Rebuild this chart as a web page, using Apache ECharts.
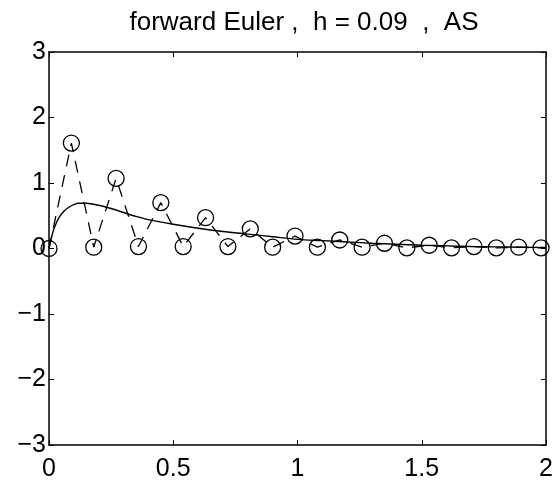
<!DOCTYPE html>
<html>
<head>
<meta charset="utf-8">
<script src="https://cdn.jsdelivr.net/npm/echarts@6/dist/echarts.min.js"></script>
<style>
  html, body { margin: 0; padding: 0; background: #fff; }
  #chart { width: 558px; height: 482px; }
</style>
</head>
<body>
<div id="chart"></div>
<script>
// forward Euler steps, h = 0.09
const eulerT = [0, 0.09, 0.18, 0.27, 0.36, 0.45, 0.54, 0.63, 0.72, 0.81, 0.9, 0.99,
                1.08, 1.17, 1.26, 1.35, 1.44, 1.53, 1.62, 1.71, 1.8, 1.89, 1.98];
const eulerY = [0, 1.61, 0.02, 1.07, 0.03, 0.70, 0.03, 0.47, 0.03, 0.30, 0.02, 0.19,
                0.02, 0.13, 0.02, 0.08, 0.01, 0.05, 0.01, 0.03, 0.01, 0.02, 0.01];

// exact solution
const exactT = [0, 0.01, 0.02, 0.04, 0.06, 0.08, 0.1, 0.12, 0.15, 0.2, 0.25, 0.3, 0.35, 0.4,
                0.5, 0.6, 0.7, 0.8, 0.9, 1.0, 1.1, 1.2, 1.3, 1.4, 1.5, 1.6, 1.7, 1.8, 1.9, 2.0];
const exactY = [0, 0.17, 0.30, 0.47, 0.57, 0.63, 0.67, 0.69, 0.69, 0.66, 0.61, 0.55, 0.49, 0.44,
                0.37, 0.31, 0.26, 0.22, 0.18, 0.14, 0.12, 0.10, 0.08, 0.065, 0.05, 0.04, 0.03, 0.025, 0.02, 0.015];

const titleText = 'forward Euler ,  h = 0.09  ,  AS';

const chart = echarts.init(document.getElementById('chart'), null, {renderer: 'canvas'});
const font = 'Liberation Sans, Arial, Helvetica, sans-serif';
const axisLine = {show: true, onZero: false, lineStyle: {color: '#000', width: 1.5}};
const tickIn = {show: true, inside: true, length: 5, lineStyle: {color: '#000', width: 1}};

const option = {
    animation: false,
    backgroundColor: '#fff',
    title: {
        text: titleText,
        left: 299,
        top: 5,
        textAlign: 'center',
        textStyle: {fontFamily: font, fontSize: 26, fontWeight: 'normal', color: '#000'}
    },
    grid: {left: 49, right: 12, top: 52, bottom: 35, containLabel: false},
    xAxis: [
        {
            type: 'value', min: 0, max: 2, interval: 0.5, position: 'bottom',
            axisLine: axisLine, axisTick: tickIn, splitLine: {show: false},
            axisLabel: {fontFamily: font, fontSize: 25, color: '#000', margin: 12}
        },
        {
            type: 'value', min: 0, max: 2, interval: 0.5, position: 'top',
            axisLine: axisLine, axisTick: tickIn, splitLine: {show: false},
            axisLabel: {show: false}
        }
    ],
    yAxis: [
        {
            type: 'value', min: -3, max: 3, interval: 1, position: 'left',
            axisLine: axisLine, axisTick: tickIn, splitLine: {show: false},
            axisLabel: {
                fontFamily: font, fontSize: 25, color: '#000', margin: 3,
                formatter: function (v) { return String(v).replace('-', '\u2212'); }
            }
        },
        {
            type: 'value', min: -3, max: 3, interval: 1, position: 'right',
            axisLine: axisLine, axisTick: tickIn, splitLine: {show: false},
            axisLabel: {show: false}
        }
    ],
    series: [
        {
            name: 'exact',
            type: 'line',
            data: exactT.map((t, i) => [t, exactY[i]]),
            smooth: 0.3,
            showSymbol: false,
            lineStyle: {color: '#000', width: 1.4}
        },
        {
            name: 'euler',
            type: 'line',
            data: eulerT.map((t, i) => [t, eulerY[i]]),
            symbol: 'circle',
            symbolSize: 16,
            showAllSymbol: true,
            itemStyle: {color: 'rgba(0,0,0,0)', borderColor: '#000', borderWidth: 1.3},
            lineStyle: {color: '#000', width: 1.3, type: [12, 9]}
        }
    ]
};
chart.setOption(option);
</script>
</body>
</html>
